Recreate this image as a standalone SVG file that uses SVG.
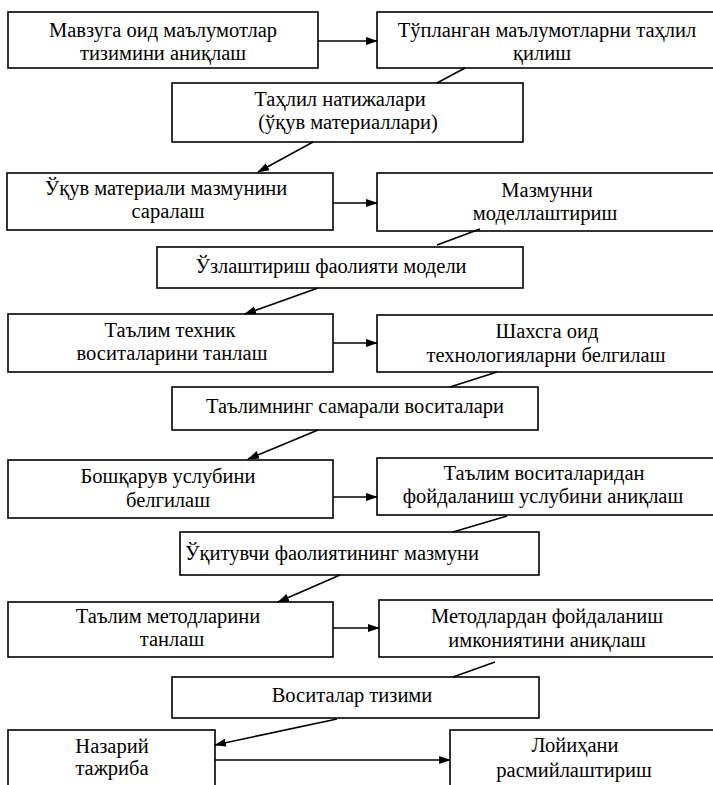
<svg xmlns="http://www.w3.org/2000/svg" width="713" height="785" viewBox="0 0 713 785">
<style>
.b{fill:#fff;stroke:#000;stroke-width:1.6}
.t{font-family:"Liberation Serif","Times New Roman",serif;font-size:20.5px;fill:#000;text-anchor:middle}
.c{stroke:#000;stroke-width:1.6;fill:none}
</style>
<defs>
<marker id="ah" markerWidth="12" markerHeight="10" refX="11" refY="5" orient="auto" markerUnits="userSpaceOnUse">
<path d="M0,1 L12,5 L0,9 Z" fill="#000"/>
</marker>
</defs>
<rect width="713" height="785" fill="#fff"/>
<g id="n1"><rect class="b" x="8" y="12" width="310" height="56"/><text class="t" x="163" y="37">Мавзуга оид маълумотлар</text><text class="t" x="163" y="60">тизимини аниқлаш</text></g>
<g id="n2"><rect class="b" x="377" y="12" width="340" height="56"/><text class="t" x="547" y="37">Тўпланган маълумотларни таҳлил</text><text class="t" x="542" y="60">қилиш</text></g>
<g id="n3"><rect class="b" x="172" y="83" width="351" height="59"/><text class="t" x="340" y="106">Таҳлил натижалари</text><text class="t" x="348" y="129">(ўқув материаллари)</text></g>
<g id="n4"><rect class="b" x="7" y="173" width="326" height="57"/><text class="t" x="166" y="195">Ўқув материали мазмунини</text><text class="t" x="168" y="218">саралаш</text></g>
<g id="n5"><rect class="b" x="377" y="173" width="340" height="58"/><text class="t" x="547" y="197">Мазмунни</text><text class="t" x="545" y="220">моделлаштириш</text></g>
<g id="n6"><rect class="b" x="157" y="247" width="366" height="41"/><text class="t" x="331" y="273">Ўзлаштириш фаолияти модели</text></g>
<g id="n7"><rect class="b" x="8" y="314" width="325" height="58"/><text class="t" x="170" y="337">Таълим техник</text><text class="t" x="172" y="360">воситаларини танлаш</text></g>
<g id="n8"><rect class="b" x="377" y="315" width="340" height="57"/><text class="t" x="547" y="338">Шахсга оид</text><text class="t" x="546" y="362">технологияларни белгилаш</text></g>
<g id="n9"><rect class="b" x="172" y="387" width="366" height="43"/><text class="t" x="355" y="413">Таълимнинг самарали воситалари</text></g>
<g id="n10"><rect class="b" x="8" y="460" width="325" height="58"/><text class="t" x="168" y="483">Бошқарув услубини</text><text class="t" x="168" y="507">белгилаш</text></g>
<g id="n11"><rect class="b" x="377" y="458" width="340" height="57"/><text class="t" x="544" y="480">Таълим воситаларидан</text><text class="t" x="543" y="503">фойдаланиш услубини аниқлаш</text></g>
<g id="n12"><rect class="b" x="180" y="532" width="359" height="43"/><text class="t" x="332" y="560">Ўқитувчи фаолиятининг мазмуни</text></g>
<g id="n13"><rect class="b" x="8" y="602" width="325" height="55"/><text class="t" x="168" y="623">Таълим методларини</text><text class="t" x="172" y="646">танлаш</text></g>
<g id="n14"><rect class="b" x="379" y="600" width="338" height="57"/><text class="t" x="547" y="623">Методлардан фойдаланиш</text><text class="t" x="547" y="647">имкониятини аниқлаш</text></g>
<g id="n15"><rect class="b" x="172" y="677" width="367" height="41"/><text class="t" x="352" y="702">Воситалар тизими</text></g>
<g id="n16"><rect class="b" x="8" y="730" width="207" height="70"/><text class="t" x="112" y="753">Назарий</text><text class="t" x="112" y="775">тажриба</text></g>
<g id="n17"><rect class="b" x="450" y="730" width="267" height="70"/><text class="t" x="575" y="752">Лойиҳани</text><text class="t" x="574" y="777">расмийлаштириш</text></g>
<g id="connectors">
<line class="c" x1="318" y1="41" x2="377" y2="41" marker-end="url(#ah)"/>
<line class="c" x1="465" y1="68" x2="437" y2="83"/>
<line class="c" x1="313" y1="142" x2="258" y2="172" marker-end="url(#ah)"/>
<line class="c" x1="333" y1="203" x2="377" y2="203" marker-end="url(#ah)"/>
<line class="c" x1="480" y1="229" x2="437" y2="245"/>
<line class="c" x1="318" y1="288" x2="245" y2="314" marker-end="url(#ah)"/>
<line class="c" x1="333" y1="343" x2="377" y2="343" marker-end="url(#ah)"/>
<line class="c" x1="497" y1="372" x2="450" y2="387"/>
<line class="c" x1="318" y1="430" x2="248" y2="459" marker-end="url(#ah)"/>
<line class="c" x1="333" y1="497" x2="377" y2="497" marker-end="url(#ah)"/>
<line class="c" x1="507" y1="516" x2="453" y2="532"/>
<line class="c" x1="340" y1="575" x2="278" y2="602" marker-end="url(#ah)"/>
<line class="c" x1="333" y1="628" x2="379" y2="628" marker-end="url(#ah)"/>
<line class="c" x1="495" y1="662" x2="453" y2="677"/>
<line class="c" x1="337" y1="719" x2="215" y2="745" marker-end="url(#ah)"/>
<line class="c" x1="215" y1="760" x2="450" y2="760" marker-end="url(#ah)"/>
</g>
</svg>
